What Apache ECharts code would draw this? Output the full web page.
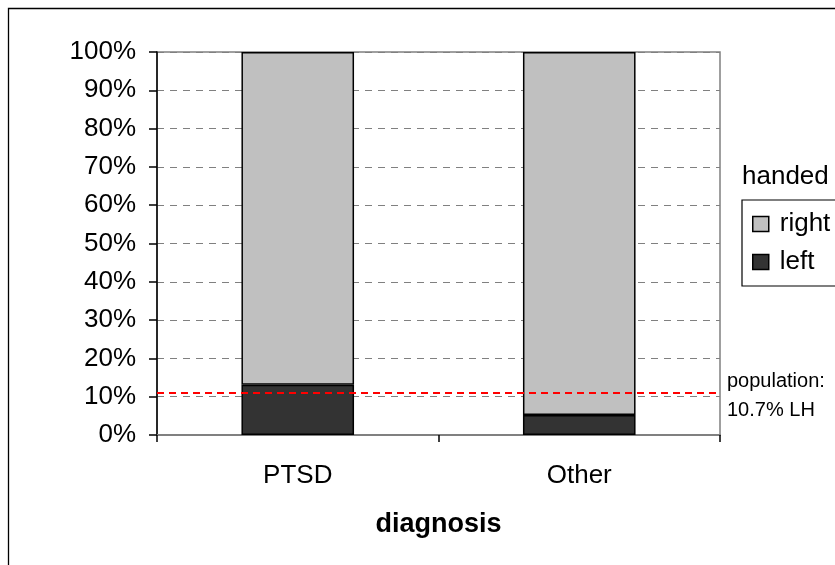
<!DOCTYPE html>
<html>
<head>
<meta charset="utf-8">
<script src="https://cdn.jsdelivr.net/npm/echarts@6/dist/echarts.min.js"></script>
<style>
html,body{margin:0;padding:0;background:#fff;}
#chart{width:835px;height:565px;}
</style>
</head>
<body>
<div id="chart"></div>
<script>
var categories = ['PTSD', 'Other'];
var leftValues = [13.1, 5.2];
var rightValues = [86.9, 94.8];
var populationLine = 11.1;
var yTicks = [0, 10, 20, 30, 40, 50, 60, 70, 80, 90, 100];
var legendTitle = 'handed';
var popLabel1 = 'population:';
var popLabel2 = '10.7% LH';

var FONT = "'Liberation Sans', Arial, sans-serif";
var chart = echarts.init(document.getElementById('chart'), null, {renderer: 'canvas'});
chart.setOption({
  backgroundColor: '#fff',
  animation: false,
  textStyle: {fontFamily: FONT},
  grid: {left: 157, top: 52, right: 115, bottom: 130, show: true, borderColor: '#808080', borderWidth: 1.5, backgroundColor: 'transparent'},
  xAxis: {
    type: 'category',
    data: categories,
    name: 'diagnosis',
    nameLocation: 'middle',
    nameGap: 76,
    nameTextStyle: {fontSize: 27, fontWeight: 'bold', color: '#000', fontFamily: FONT},
    axisLine: {lineStyle: {color: '#808080', width: 2}},
    axisTick: {show: true, length: 7, lineStyle: {color: '#000', width: 1.5}},
    axisLabel: {fontSize: 26, color: '#000', margin: 28, fontFamily: FONT},
    splitLine: {show: false}
  },
  yAxis: {
    type: 'value',
    min: 0, max: 100, interval: 10,
    axisLine: {show: true, lineStyle: {color: '#000', width: 1.5}},
    axisTick: {show: true, length: 8, lineStyle: {color: '#000', width: 1.5}},
    axisLabel: {fontSize: 26, color: '#000', margin: 21, fontFamily: FONT,
      formatter: function (v) { return yTicks.indexOf(v) >= 0 ? v + '%' : ''; }},
    splitLine: {show: true, lineStyle: {color: '#808080', type: [7, 6], width: 1}}
  },
  legend: {
    data: ['right', 'left'],
    orient: 'vertical',
    left: 742, top: 200,
    padding: [9, 30, 9, 10],
    itemWidth: 16, itemHeight: 15, itemGap: 8,
    icon: 'rect',
    borderColor: '#000', borderWidth: 1.2,
    textStyle: {fontSize: 26, color: '#000', lineHeight: 30, padding: [0, 0, 0, 6], fontFamily: FONT},
    itemStyle: {borderColor: '#000', borderWidth: 1.5}
  },
  graphic: [
    {type: 'rect', shape: {x: 8.5, y: 8.5, width: 1000, height: 1000}, style: {fill: 'none', stroke: '#000', lineWidth: 1.3}, silent: true, z: 100},
    {type: 'text', x: 742, y: 177, style: {text: legendTitle, fontSize: 26, fill: '#000', fontFamily: FONT, textVerticalAlign: 'middle'}},
    {type: 'text', x: 727, y: 381, style: {text: popLabel1, fontSize: 20, fill: '#000', fontFamily: FONT, textVerticalAlign: 'middle'}},
    {type: 'text', x: 727, y: 410, style: {text: popLabel2, fontSize: 20, fill: '#000', fontFamily: FONT, textVerticalAlign: 'middle'}}
  ],
  series: [
    {
      name: 'left', type: 'bar', stack: 'h', data: leftValues, barWidth: '40%',
      itemStyle: {color: '#333333', borderColor: '#000', borderWidth: 1.5},
      markLine: {
        silent: true, symbol: 'none',
        label: {show: false},
        lineStyle: {color: '#ff0000', type: [7, 5], width: 2},
        data: [{yAxis: populationLine}]
      },
      z: 2
    },
    {
      name: 'right', type: 'bar', stack: 'h', data: rightValues, barWidth: '40%',
      itemStyle: {color: '#c0c0c0', borderColor: '#000', borderWidth: 1.5},
      z: 2
    }
  ]
});
</script>
</body>
</html>
